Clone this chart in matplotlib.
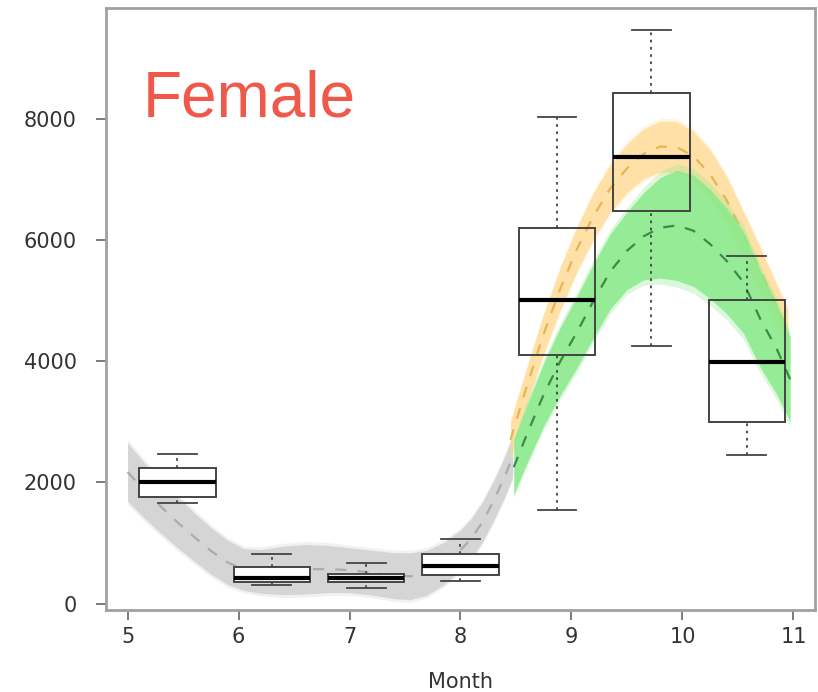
import matplotlib
matplotlib.use("Agg")
import matplotlib.pyplot as plt
from matplotlib.patches import Rectangle

# ---- data ----
box_pos = [5.45, 6.30, 7.15, 8.00, 8.87, 9.72, 10.58]
whisk_lo = [1660, 310, 260, 370, 1550, 4250, 2450]
q1 = [1760, 360, 360, 470, 4100, 6480, 2990]
median = [2000, 420, 420, 620, 5010, 7370, 3980]
q3 = [2240, 600, 490, 820, 6200, 8430, 5010]
whisk_hi = [2475, 810, 670, 1070, 8020, 9470, 5740]
box_filled = [True, True, True, True, False, False, False]

gray_x = [5.0, 5.15, 5.3, 5.45, 5.6, 5.75, 5.9, 6.05, 6.2, 6.4, 6.6, 6.8, 7.0, 7.2,
          7.4, 7.55, 7.7, 7.85, 8.0, 8.1, 8.2, 8.3, 8.4, 8.47]
gray_c = [2170, 1870, 1600, 1340, 1100, 870, 680, 560, 530, 545, 565, 570, 550, 510,
          460, 450, 510, 660, 880, 1080, 1350, 1700, 2100, 2420]
gray_h = [480, 460, 440, 420, 400, 385, 365, 345, 360, 400, 410, 390, 370, 370,
          380, 385, 370, 350, 330, 330, 330, 330, 335, 340]

orange_x = [8.45, 8.6, 8.75, 8.9, 9.05, 9.2, 9.35, 9.5, 9.65, 9.8, 9.95, 10.1, 10.25,
            10.4, 10.55, 10.7, 10.85, 10.95]
orange_c = [2700, 3600, 4450, 5200, 5850, 6400, 6850, 7180, 7420, 7540, 7530, 7380, 7080,
            6650, 6080, 5500, 4900, 4500]
orange_h = [300, 310, 330, 350, 365, 380, 390, 400, 410, 420, 420, 410, 400,
            390, 380, 370, 360, 350]

green_x = [8.48, 8.6, 8.75, 8.9, 9.05, 9.2, 9.35, 9.5, 9.65, 9.8, 9.95, 10.1, 10.25,
           10.4, 10.55, 10.7, 10.85, 10.97]
green_c = [2250, 2800, 3450, 4000, 4480, 5000, 5480, 5820, 6060, 6200, 6240, 6150, 5930,
           5650, 5300, 4700, 4200, 3700]
green_h = [450, 480, 520, 560, 590, 610, 620, 640, 720, 830, 910, 920, 900,
           870, 840, 800, 750, 700]

xticks = [5, 6, 7, 8, 9, 10, 11]
yticks = [0, 2000, 4000, 6000, 8000]

# ---- figure ----
fig = plt.figure(figsize=(8.18, 6.92), dpi=100)
ax = fig.add_axes([0.1296, 0.1185, 0.8667, 0.8699])
ax.set_xlim(4.806, 11.194)
ax.set_ylim(-107, 9826)

def band(xs, cs, hs, fc, lc, alpha, z):
    lo = [c - h for c, h in zip(cs, hs)]
    hi = [c + h for c, h in zip(cs, hs)]
    lo2 = [c - h * 1.12 for c, h in zip(cs, hs)]
    hi2 = [c + h * 1.12 for c, h in zip(cs, hs)]
    ax.fill_between(xs, lo2, hi2, color=fc, alpha=alpha * 0.35, lw=0, zorder=z)
    ax.fill_between(xs, lo, hi, color=fc, alpha=alpha, lw=0, zorder=z)
    ax.plot(xs, cs, color=lc, lw=1.6, dashes=(5, 5), zorder=z + 0.1)

band(gray_x, gray_c, gray_h, '#cfcfcf', '#ababab', 0.8, 1)
band(orange_x, orange_c, orange_h, '#ffd98f', '#e8b454', 0.7, 2)
band(green_x, green_c, green_h, '#8aea8a', '#3b8a4a', 0.85, 3)

w = 0.69
cw = 0.35
for i, p in enumerate(box_pos):
    fc = 'white' if box_filled[i] else 'none'
    z = 1.5 if box_filled[i] else 5
    ax.add_patch(Rectangle((p - w / 2, q1[i]), w, q3[i] - q1[i], facecolor=fc,
                           edgecolor='#444444', lw=1.4, zorder=z))
    ax.plot([p - w / 2, p + w / 2], [median[i], median[i]], color='black', lw=3, zorder=z + 0.2,
            solid_capstyle='butt')
    ax.plot([p, p], [q3[i], whisk_hi[i]], color='#444444', lw=1.3, ls=(0, (1.5, 2.5)), zorder=z)
    ax.plot([p, p], [whisk_lo[i], q1[i]], color='#444444', lw=1.3, ls=(0, (1.5, 2.5)), zorder=z)
    ax.plot([p - cw / 2, p + cw / 2], [whisk_hi[i]] * 2, color='#444444', lw=1.3, zorder=z)
    ax.plot([p - cw / 2, p + cw / 2], [whisk_lo[i]] * 2, color='#444444', lw=1.3, zorder=z)

ax.text(5.135, 8030, 'Female', color='#f0584a', fontsize=46, family='Liberation Sans',
        va='baseline', ha='left', zorder=10)

ax.set_xticks(xticks)
ax.set_xticklabels([str(t) for t in xticks])
ax.set_yticks(yticks)
ax.set_yticklabels([str(t) for t in yticks])
ax.tick_params(axis='both', colors='#666666', labelcolor='#333333', labelsize=15,
               length=7, width=1.2)
ax.tick_params(axis='y', pad=14)
ax.tick_params(axis='x', pad=5)
for s in ax.spines.values():
    s.set_color('#a0a0a0')
    s.set_linewidth(2)
ax.set_xlabel('Month', fontsize=15, color='#333333', labelpad=18)

fig.savefig('out.png', dpi=100, facecolor='white')
